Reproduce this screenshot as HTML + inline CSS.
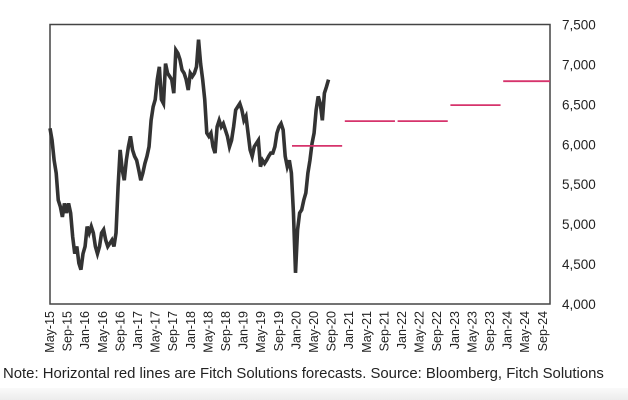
<!DOCTYPE html>
<html><head><meta charset="utf-8"><style>
html,body{margin:0;padding:0;background:#fff;width:628px;height:400px;overflow:hidden;font-family:"Liberation Sans",sans-serif}
#cap{position:absolute;left:3px;top:366px;font-size:14.9px;color:#222;white-space:nowrap}
#band{position:absolute;left:0;top:388px;width:628px;height:12px;background:linear-gradient(#fafafa,#ececec)}
</style></head><body>
<svg id="chart" width="628" height="400" style="position:absolute;left:0;top:0"></svg>
<div id="cap">Note: Horizontal red lines are Fitch Solutions forecasts. Source: Bloomberg, Fitch Solutions</div>
<div id="band"></div>
<script>
const xLabels=["May-15","Sep-15","Jan-16","May-16","Sep-16","Jan-17","May-17","Sep-17","Jan-18","May-18","Sep-18","Jan-19","May-19","Sep-19","Jan-20","May-20","Sep-20","Jan-21","May-21","Sep-21","Jan-22","May-22","Sep-22","Jan-23","May-23","Sep-23","Jan-24","May-24","Sep-24"];
const yTicks=[4000,4500,5000,5500,6000,6500,7000,7500];
const prices=[6200,6050,5800,5640,5300,5220,5090,5260,5140,5260,5140,4840,4630,4720,4510,4430,4630,4720,4970,4890,4970,4890,4720,4630,4720,4890,4930,4800,4720,4760,4800,4720,4890,5470,5930,5680,5550,5800,5970,6100,5930,5850,5800,5680,5550,5640,5760,5850,5970,6300,6470,6560,6810,6970,6560,6510,7010,6890,6850,6810,6640,7180,7140,7060,6930,6890,6810,6680,6890,6850,6890,6970,7310,7010,6810,6560,6140,6100,6140,5970,5890,6220,6300,6220,6260,6180,6100,5970,6050,6220,6430,6470,6510,6430,6300,6350,6140,5930,5850,5970,6010,6050,5720,5800,5760,5800,5850,5890,5890,5970,6140,6220,6260,6180,5850,5720,5800,5640,5140,4390,4930,5140,5180,5300,5390,5640,5800,6010,6140,6430,6600,6510,6300,6640,6720,6810];
const priceStartMonth=0, priceEndMonth=63.3;
const forecastYears=[2020,2021,2022,2023,2024];
const forecastValues=[5980,6290,6290,6490,6790];

const svg=document.getElementById('chart');const NS='http://www.w3.org/2000/svg';
const L=50,R=550,T=24.5,B=304;
const x=m=>50+4.4*m;
const y=v=>B-(v-4000)/3500*(B-T);
function mk(t,a,p){const e=document.createElementNS(NS,t);for(const k in a)e.setAttribute(k,a[k]);(p||svg).appendChild(e);return e;}
const box=mk('rect',{x:L,y:T,width:R-L,height:B-T,fill:'none',stroke:'#444','stroke-width':1.5});


yTicks.forEach(v=>{const t=mk('text',{x:562,y:y(v)+5,'font-size':13.5,fill:'#222'});t.textContent=v.toLocaleString('en-US');

});
xLabels.forEach((s,i)=>{const cx=x(i*4)+4;const t=mk('text',{x:0,y:0,'font-size':12.5,fill:'#222','text-anchor':'end',transform:`translate(${cx},311) rotate(-90)`});t.textContent=s;

});
const n=prices.length;
const pts=prices.map((v,i)=>[x(priceStartMonth+(priceEndMonth-priceStartMonth)*i/(n-1)),y(v)]);
const line=mk('polyline',{points:pts.map(p=>p.join(',')).join(' '),fill:'none',stroke:'#333','stroke-width':3.6,'stroke-linejoin':'miter'});


forecastYears.forEach((yr,i)=>{const s=(yr-2015)*12-4-1;const l=mk('line',{x1:x(s),x2:Math.min(R,x(s+11.4)),y1:y(forecastValues[i]),y2:y(forecastValues[i]),stroke:'#d6336c','stroke-width':1.8});

});
</script>
</body></html>
